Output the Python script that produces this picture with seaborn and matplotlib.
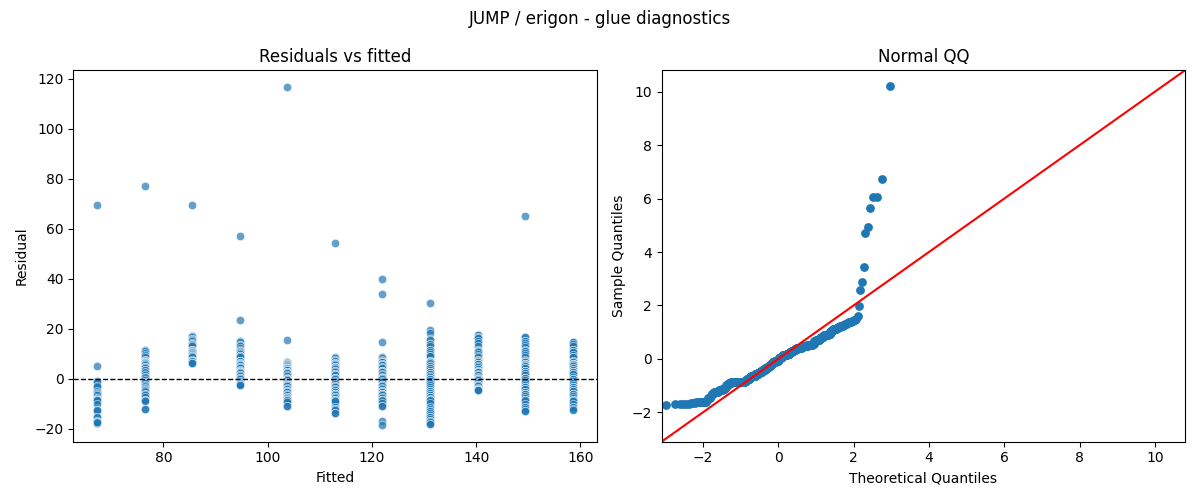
import numpy as np
import pandas as pd
import matplotlib
matplotlib.use("Agg")
import matplotlib.pyplot as plt
import seaborn as sns
from statistics import NormalDist

# valores ajustados (um por grupo)
fitted_levels = [67.3, 76.4, 85.5, 94.7, 103.8, 112.9, 122.0, 131.2, 140.3, 149.4, 158.6]

# residuos, um vetor por grupo
res_g1 = [69.7, 5.3, -0.7, -0.7, -1.2, -3.3, -3.3, -2.8, -5.3, -5.3, -5.3, -4.9, -5.8,
          -6.0, -7.1, -7.1, -7.1, -6.6, -7.5, -8.4, -8.4, -8.4, -8.4, -8.4, -8.4, -8.6,
          -8.2, -8.8, -8.5, -8.6, -8.7, -8.3, -8.5, -8.4, -8.6, -10.0, -12.7, -12.7,
          -12.4, -13.0, -12.6, -15.1, -15.1, -17.1, -17.1, -17.1, -17.1, -16.9, -17.3,
          -17.1, -17.7, -17.7, -17.5, -17.7, -17.2]
res_g2 = [77.3, 11.7, 11.2, 10.4, 9.1, 9.1, 9.4, 8.6, 7.6, 7.2, 7.0, 7.4, 7.1, 6.7,
          6.7, 6.7, 6.7, 6.2, 6.2, 5.9, 5.5, 4.7, 4.7, 4.7, 4.2, 3.6, 3.4, 2.4, 2.4,
          2.4, 2.4, 2.4, 2.1, 2.7, 1.6, 0.9, 0.4, 0.4, 0.4, 0.4, 0.1, 0.6, -0.3, -1.3,
          -1.3, -1.3, -1.8, -2.6, -3.3, -3.3, -3.3, -3.0, -3.6, -4.1, -4.5, -5.3, -5.3,
          -5.3, -4.8, -5.9, -6.0, -6.5, -7.2, -8.3, -8.5, -8.6, -8.8, -12.0, -12.0]
res_g3 = [69.7, 17.3, 17.3, 16.8, 16.0, 16.0, 15.4, 15.0, 14.5, 14.0, 14.0, 13.6,
          13.1, 11.7, 11.5, 11.0, 11.6, 11.2, 10.7, 10.7, 10.3, 9.9, 9.5, 9.1, 9.1,
          8.7, 7.4, 7.2, 7.3, 7.3, 7.0, 7.0, 6.7, 6.7, 6.5, 7.3, 6.3, 6.3]
res_g4 = [57.0, 23.6, 15.3, 14.6, 13.7, 13.7, 13.2, 12.5, 11.6, 11.3, 11.3, 10.8,
          10.2, 9.8, 9.3, 9.3, 9.3, 8.8, 7.3, 6.9, 7.1, 7.1, 7.1, 7.1, 7.1, 6.5, 6.5,
          6.0, 6.0, 5.4, 5.6, 4.7, 4.7, 4.7, 4.2, 3.6, 3.2, 3.2, 2.7, 2.7, 2.7, 2.7,
          2.7, 2.2, 1.6, 1.6, 1.1, 0.4, 0.4, 0.4, -0.2, -0.8, -1.2, -1.7, -1.7, -2.1,
          -2.4, -2.4]
res_g5 = [116.7, 15.6, 6.7, 6.7, 6.7, 6.2, 6.2, 5.8, 5.8, 5.5, 5.3, 4.9, 4.4, 4.4,
          4.4, 3.9, 3.4, 3.4, 2.7, 2.7, 2.7, 2.7, 2.7, 2.2, 2.2, 1.6, 1.1, 0.5, 0.0,
          0.0, 0.0, 0.0, -0.6, -1.1, -1.6, -2.0, -2.4, -2.4, -2.4, -3.0, -3.6, -4.1,
          -4.1, -4.7, -4.7, -4.7, -5.3, -5.3, -5.9, -6.5, -6.5, -7.1, -7.1, -7.1, -7.6,
          -8.2, -8.7, -8.7, -8.7, -8.7, -8.5, -8.7, -8.8, -8.6, -9.4, -10.9, -10.9]
res_g6 = [54.5, 8.7, 8.2, 7.6, 7.0, 7.0, 6.4, 6.4, 5.9, 5.9, 5.6, 4.9, 4.9, 4.9,
          4.9, 4.4, 3.8, 3.2, 3.2, 2.6, 2.0, 2.0, 1.4, 1.4, 0.4, 0.4, 0.4, 0.4, -0.2,
          -0.8, -1.4, -2.0, -2.7, -2.7, -2.7, -3.3, -3.9, -4.5, -4.5, -5.1, -5.1, -6.0,
          -6.0, -6.0, -6.0, -6.6, -7.2, -7.2, -7.8, -8.4, -9.3, -8.8, -8.6, -8.5, -8.7,
          -9.6, -8.4, -8.8, -11.4, -12.0, -12.0, -12.6, -13.7, -13.7]
res_g7 = [40.0, 34.0, 14.9, 8.9, 8.9, 8.3, 7.7, 7.0, 6.7, 6.7, 6.7, 6.7, 6.1, 6.1,
          5.5, 5.5, 4.9, 4.3, 4.3, 3.3, 3.3, 3.3, 3.3, 2.7, 2.7, 2.1, 1.5, 0.9, 0.4,
          0.4, 0.4, -0.2, -0.8, -1.4, -2.3, -2.3, -2.3, -2.9, -3.5, -4.1, -4.7, -4.7,
          -5.3, -5.3, -6.0, -6.0, -6.0, -6.0, -6.6, -7.2, -7.8, -8.7, -8.7, -8.7, -8.7,
          -8.5, -8.5, -8.3, -8.7, -8.6, -9.5, -10.7, -10.7, -17.0, -18.4]
res_g8 = [30.4, 19.6, 18.2, 16.0, 15.4, 14.0, 14.0, 13.2, 11.5, 11.7, 10.9, 10.1,
          9.3, 9.3, 7.0, 7.3, 6.9, 6.9, 6.0, 6.0, 6.0, 5.6, 6.4, 5.2, 5.2, 4.4, 4.4,
          3.6, 2.7, 2.7, 2.7, 2.7, 2.0, 2.0, 1.3, 0.6, 0.0, 0.0, 0.0, -0.8, -1.6, -1.6,
          -2.4, -3.2, -3.9, -4.7, -4.7, -4.7, -5.5, -5.5, -6.3, -6.3, -7.3, -7.3, -7.3,
          -8.1, -8.5, -8.5, -8.7, -8.7, -8.6, -8.4, -9.7, -11.3, -12.0, -12.7, -12.7,
          -13.5, -14.3, -15.3, -15.3, -16.1, -16.9, -17.0, -17.4, -18.0, -18.0]
res_g9 = [17.6, 17.6, 16.9, 16.4, 16.4, 15.2, 14.2, 13.3, 11.6, 11.3, 11.3, 10.7,
          10.0, 9.3, 8.7, 7.2, 7.4, 7.4, 7.0, 6.6, 6.6, 6.0, 6.0, 6.0, 6.0, 5.8, 5.3,
          4.6, 4.0, 4.0, 3.3, 3.3, 2.7, 2.7, 2.7, 2.7, 2.1, 1.5, 1.5, 0.9, 0.3, 0.0,
          0.0, 0.0, -0.6, -1.2, -1.7, -2.3, -2.3, -2.3, -2.9, -3.5, -4.0, -4.0, -4.4,
          -4.4, -4.4]
res_g10 = [65.0, 16.9, 16.9, 15.3, 15.3, 14.5, 13.7, 12.9, 11.5, 11.3, 11.3, 10.5,
           9.6, 8.7, 7.4, 7.2, 6.9, 6.9, 6.0, 6.0, 6.0, 6.0, 5.6, 5.1, 5.1, 4.2, 4.2,
           3.3, 3.3, 3.3, 3.3, 2.4, 2.4, 1.5, 0.4, 0.4, 0.4, -0.5, -1.4, -2.4, -3.3,
           -3.3, -3.3, -4.2, -4.2, -5.1, -5.1, -6.0, -6.0, -6.0, -6.0, -6.9, -7.8, -8.7,
           -8.7, -8.7, -8.7, -8.4, -8.4, -8.8, -8.6, -9.9, -11.3, -11.3, -12.1, -12.9,
           -12.9]
res_g11 = [14.9, 14.9, 14.0, 13.1, 11.6, 11.4, 10.7, 10.7, 9.7, 8.7, 8.7, 7.3, 6.9,
           6.9, 6.0, 6.0, 6.0, 6.0, 5.7, 5.1, 4.2, 4.2, 3.5, 3.5, 2.7, 2.7, 2.7, 2.7,
           1.8, 1.8, 0.9, 0.0, 0.0, 0.0, -0.8, -1.6, -2.5, -3.3, -3.3, -3.3, -4.1, -4.1,
           -5.0, -5.0, -6.0, -6.0, -6.0, -6.0, -6.9, -7.8, -8.7, -8.7, -8.7, -8.7, -8.5,
           -8.5, -8.6, -8.8, -10.0, -11.3, -11.3, -12.0, -12.4]

grupos = [res_g1, res_g2, res_g3, res_g4, res_g5, res_g6,
          res_g7, res_g8, res_g9, res_g10, res_g11]

# monta o df longo
linhas = []
for fv, rr in zip(fitted_levels, grupos):
    for r in rr:
        linhas.append((fv, r))
dados = pd.DataFrame(linhas, columns=["fitted", "resid"])

# quantis para o grafico QQ (posicoes i/(n+1))
z = (dados["resid"] - dados["resid"].mean()) / dados["resid"].std()
amostra = np.sort(z.values)
n = len(amostra)
nd = NormalDist()
teoricos = np.array([nd.inv_cdf(i / (n + 1)) for i in range(1, n + 1)])
qq = pd.DataFrame({"teo": teoricos, "amostra": amostra})
print(n, dados["resid"].mean(), dados["resid"].std(), amostra.max())

fig, (ax1, ax2) = plt.subplots(1, 2, figsize=(12, 5), dpi=100)

sns.scatterplot(data=dados, x="fitted", y="resid", alpha=0.7, ax=ax1)
ax1.axhline(0, color="black", linestyle="--", linewidth=1)
ax1.set_title("Residuals vs fitted")
ax1.set_xlabel("Fitted")
ax1.set_ylabel("Residual")

sns.scatterplot(data=qq, x="teo", y="amostra", linewidth=0, s=40, ax=ax2)
lims = [-3.1, 10.8]
ax2.plot(lims, lims, color="red")
ax2.set_xlim(lims)
ax2.set_ylim(lims)
ax2.set_title("Normal QQ")
ax2.set_xlabel("Theoretical Quantiles")
ax2.set_ylabel("Sample Quantiles")

fig.suptitle("JUMP / erigon - glue diagnostics")
fig.tight_layout()
fig.savefig("out.png")
